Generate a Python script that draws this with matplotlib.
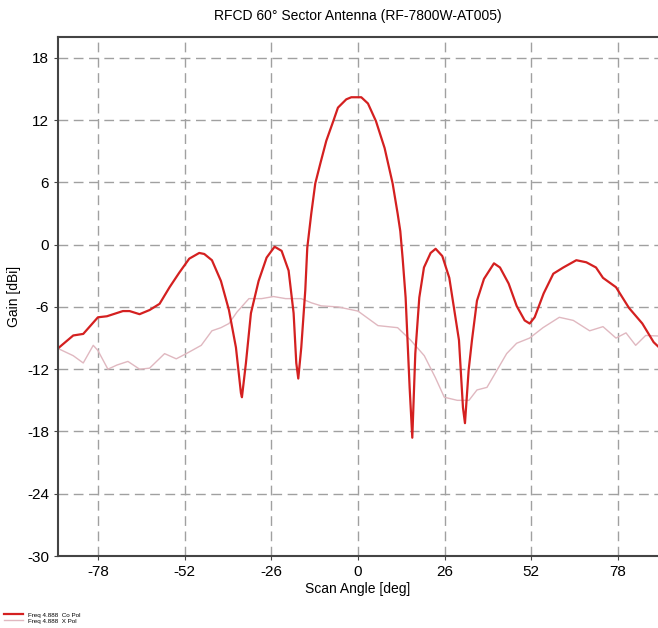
import numpy as np
import matplotlib.pyplot as plt

plt.rcParams['font.family'] = ['Liberation Sans', 'DejaVu Sans']
plt.rcParams['axes.unicode_minus'] = False

# Co Pol (red)
co_ang = [-90, -85.4, -82.4, -78, -75.3, -70.5, -68.5, -65.5, -62.5, -59.5, -56.5, -53.6,
          -50.6, -47.6, -46.1, -43.8, -41.1, -38.7, -36.6, -35.1, -34.8, -33.6, -32.1, -29.8,
          -27.4, -25, -22.9, -20.8, -19.3, -18.5, -17.9, -17, -15.8, -15.2, -14, -12.8,
          -11.3, -9.5, -7.4, -6, -3.5, -2, 1, 3, 5.4, 8.0, 10.4, 11.9, 12.7, 13.4, 14.3,
          15.5, 16.3, 17.2, 18.4, 19.8, 21.8, 23.3, 25.3, 27.4, 28.8, 30.3, 31.5, 32.1,
          33.2, 34.2, 35.7, 37.8, 40.8, 42.6, 45.2, 47.6, 50.0, 51.5, 53, 55.7, 58.6,
          61.6, 65.5, 68.5, 71.4, 73.5, 77.4, 81.3, 85.3, 88.7, 90]
co_gain = [-10.0, -8.75, -8.6, -7.0, -6.9, -6.4, -6.4, -6.7, -6.3, -5.7, -4.1, -2.7,
           -1.35, -0.8, -0.9, -1.5, -3.5, -6.3, -9.9, -14.3, -14.7, -11.4, -6.6, -3.5,
           -1.25, -0.2, -0.6, -2.5, -6.6, -11.4, -12.9, -9.9, -4.4, -0.3, 3.0, 5.9,
           7.8, 10.0, 11.9, 13.2, 14.0, 14.2, 14.2, 13.6, 11.9, 9.3, 5.9, 3.0, 1.3, -1.3, -5.1,
           -13.75, -18.6, -10.5, -5.1, -2.2, -0.8, -0.4, -1.1, -3.2, -6.1, -9.2, -15.7, -17.2,
           -12.1, -9.2, -5.4, -3.3, -1.8, -2.2, -3.75, -5.9, -7.3, -7.6, -7.0, -4.7, -2.8,
           -2.2, -1.5, -1.7, -2.2, -3.2, -4.1, -6.1, -7.6, -9.4, -9.8]

# X Pol (light pink)
x_ang = [-90, -85.4, -82.4, -79.4, -78, -75, -72.3, -69, -65.5, -62.5, -58, -54.5, -51.5,
         -47, -43.8, -41.1, -38.7, -36.3, -32.7, -28.9, -25.3, -21.7, -17, -14, -11, -6,
         0, 6, 11.9, 15.8, 19.9, 23.2, 25.9, 29.8, 33.3, 35.7, 38.7, 41.7, 44.6, 47.6,
         51.5, 55.5, 60.4, 64.6, 69.5, 73.5, 77.4, 80.4, 83.3, 86.3, 90]
x_gain = [-10.0, -10.7, -11.4, -9.7, -10.2, -12.0, -11.6, -11.25, -12.0, -11.9, -10.5, -11.0, -10.5,
          -9.7, -8.3, -8.0, -7.6, -6.5, -5.2, -5.2, -5.0, -5.2, -5.2, -5.6, -5.9, -6.0,
          -6.4, -7.8, -8.0, -9.2, -10.7, -12.8, -14.7, -15.0, -15.0, -14.0, -13.75, -12.1, -10.5, -9.5,
          -9.0, -8.0, -7.0, -7.3, -8.3, -7.9, -9.0, -8.5, -9.7, -8.75, -8.8]

xticks = [-78, -52, -26, 0, 26, 52, 78]
yticks = [-30, -24, -18, -12, -6, 0, 6, 12, 18]

fig = plt.figure(figsize=(6.58, 6.28), dpi=100)
ax = fig.add_axes([0.088, 0.1146, 0.912, 0.8264])

ax.plot(x_ang, x_gain, color='#e0b8c0', lw=1.0, label='Freq 4.888  X Pol')
ax.plot(co_ang, co_gain, color='#d42020', lw=1.6, label='Freq 4.888  Co Pol')

ax.set_xlim(-90, 90)
ax.set_ylim(-30, 20)
ax.set_xticks(xticks)
ax.set_yticks(yticks)
ax.tick_params(labelsize=11, length=3, color='#444444')
ax.grid(True, color='#a0a0a0', linestyle=(0, (7, 4)), lw=1.0)
for s in ['left', 'bottom', 'top']:
    ax.spines[s].set_color('#444444')
    ax.spines[s].set_linewidth(1.5)
ax.spines['right'].set_visible(False)

ax.set_title('RFCD 60° Sector Antenna (RF-7800W-AT005)', fontsize=10, pad=12)
ax.set_xlabel('Scan Angle [deg]', fontsize=10, labelpad=2)
ax.set_ylabel('Gain [dBi]', fontsize=10, labelpad=4)

# tiny legend at the bottom left
h, l = ax.get_legend_handles_labels()
fig.legend(h[::-1], l[::-1], loc='lower left', bbox_to_anchor=(0.0, 0.0), frameon=False,
           fontsize=4.5, handlelength=3, labelspacing=0.1, borderaxespad=0.3)

fig.savefig('out.png', dpi=100)
